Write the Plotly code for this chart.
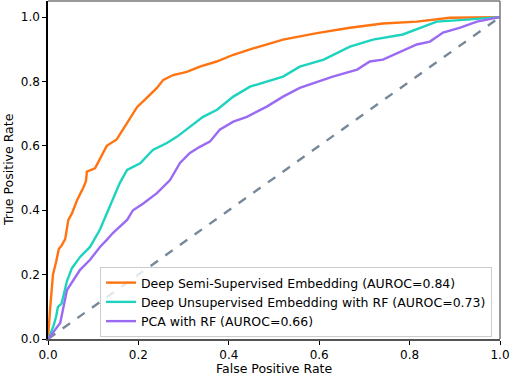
import plotly.graph_objects as go

# ROC curves
semi_fpr = [0, 0.002, 0.005, 0.008, 0.011, 0.018, 0.024, 0.03, 0.038, 0.045, 0.053, 0.064, 0.075, 0.078,
            0.084, 0.086, 0.104, 0.115, 0.13, 0.152, 0.175, 0.197, 0.219, 0.241, 0.255, 0.277, 0.307,
            0.336, 0.373, 0.41, 0.447, 0.52, 0.595, 0.668, 0.741, 0.816, 0.889, 0.962, 1.0]
semi_tpr = [0, 0.03, 0.1, 0.15, 0.2, 0.24, 0.28, 0.29, 0.31, 0.37, 0.39, 0.43, 0.46, 0.47,
            0.49, 0.52, 0.53, 0.56, 0.60, 0.62, 0.67, 0.72, 0.75, 0.78, 0.805, 0.82, 0.83,
            0.846, 0.862, 0.883, 0.9, 0.93, 0.95, 0.967, 0.98, 0.986, 0.998, 1.0, 1.0]

unsup_fpr = [0, 0.004, 0.012, 0.018, 0.022, 0.03, 0.042, 0.053, 0.071, 0.093, 0.115, 0.13, 0.144,
             0.159, 0.175, 0.204, 0.232, 0.263, 0.285, 0.314, 0.343, 0.374, 0.41, 0.447, 0.52,
             0.557, 0.61, 0.668, 0.719, 0.785, 0.83, 0.86, 0.927, 1.0]
unsup_tpr = [0, 0.01, 0.04, 0.07, 0.1, 0.11, 0.18, 0.22, 0.255, 0.286, 0.34, 0.39, 0.44,
             0.485, 0.525, 0.546, 0.587, 0.609, 0.628, 0.66, 0.69, 0.712, 0.753, 0.784, 0.815,
             0.846, 0.868, 0.908, 0.93, 0.946, 0.97, 0.986, 0.992, 1.0]

pca_fpr = [0, 0.004, 0.02, 0.027, 0.042, 0.055, 0.071, 0.093, 0.115, 0.13, 0.144, 0.175, 0.188,
           0.21, 0.241, 0.27, 0.292, 0.314, 0.336, 0.358, 0.38, 0.41, 0.44, 0.484, 0.52, 0.557,
           0.63, 0.684, 0.712, 0.741, 0.779, 0.816, 0.845, 0.874, 0.912, 0.949, 1.0]
pca_tpr = [0, 0.006, 0.037, 0.05, 0.152, 0.18, 0.215, 0.246, 0.286, 0.308, 0.33, 0.37, 0.40,
           0.42, 0.453, 0.494, 0.547, 0.578, 0.597, 0.613, 0.65, 0.675, 0.69, 0.722, 0.753, 0.78,
           0.815, 0.837, 0.862, 0.868, 0.893, 0.915, 0.924, 0.952, 0.967, 0.986, 1.0]

chance = [0, 1]

names = ["Deep Semi-Supervised Embedding (AUROC=0.84)",
         "Deep Unsupervised Embedding with RF (AUROC=0.73)",
         "PCA with RF (AUROC=0.66)"]
ticks = [0.0, 0.2, 0.4, 0.6, 0.8, 1.0]
tick_text = [f"{t:.1f}" for t in ticks]

font = "DejaVu Sans"

fig = go.Figure()
fig.add_trace(go.Scatter(x=chance, y=chance, mode="lines", showlegend=False,
                         line=dict(color="#778899", width=2.4, dash="dash")))
fig.add_trace(go.Scatter(x=semi_fpr, y=semi_tpr, mode="lines", name=names[0],
                         line=dict(color="#ff7410", width=2.4)))
fig.add_trace(go.Scatter(x=unsup_fpr, y=unsup_tpr, mode="lines", name=names[1],
                         line=dict(color="#1dd3be", width=2.4)))
fig.add_trace(go.Scatter(x=pca_fpr, y=pca_tpr, mode="lines", name=names[2],
                         line=dict(color="#9a6af3", width=2.4)))

# lighter top/right spines, like the reference
fig.add_shape(type="line", xref="paper", yref="paper", x0=0, x1=1, y0=1, y1=1,
              line=dict(color="#777777", width=1.5))
fig.add_shape(type="line", xref="paper", yref="paper", x0=1, x1=1, y0=0, y1=1,
              line=dict(color="#777777", width=1.5))

# axis titles placed as annotations so the plot area stays fixed
fig.add_annotation(text="False Positive Rate", xref="paper", yref="paper", x=0.5, y=0,
                   yshift=-29, showarrow=False, yanchor="middle", font=dict(size=12.5))
fig.add_annotation(text="True Positive Rate", xref="paper", yref="paper", x=0, y=0.5,
                   xshift=-40, showarrow=False, xanchor="center", textangle=-90,
                   font=dict(size=12.5))

fig.update_layout(
    width=512, height=376,
    margin=dict(l=48, r=12, t=1, b=37, autoexpand=False),
    plot_bgcolor="white", paper_bgcolor="white",
    font=dict(family=font, size=12, color="black"),
    showlegend=True,
    legend=dict(x=0.115, y=0.213, xanchor="left", yanchor="top",
                bgcolor="rgba(255,255,255,0.8)", bordercolor="#cccccc", borderwidth=1,
                font=dict(size=12.5), itemwidth=30, tracegroupgap=0),
    xaxis=dict(range=[0, 1], tickvals=ticks, ticktext=tick_text, automargin=False,
               showgrid=False, zeroline=False, showline=True, linecolor="#555555", linewidth=1.5,
               ticks="outside", ticklen=4, tickcolor="black", tickfont=dict(size=12)),
    yaxis=dict(range=[0, 1.05], tickvals=ticks, ticktext=tick_text, automargin=False,
               showgrid=False, zeroline=False, showline=True, linecolor="black", linewidth=1.5,
               ticks="outside", ticklen=4, tickcolor="black", tickfont=dict(size=12)),
)

# drop the page's default body margin so the figure sits at the window's corner
fig.write_html("out.html", config={"displayModeBar": False},
               post_script="document.body.style.margin='0';")
